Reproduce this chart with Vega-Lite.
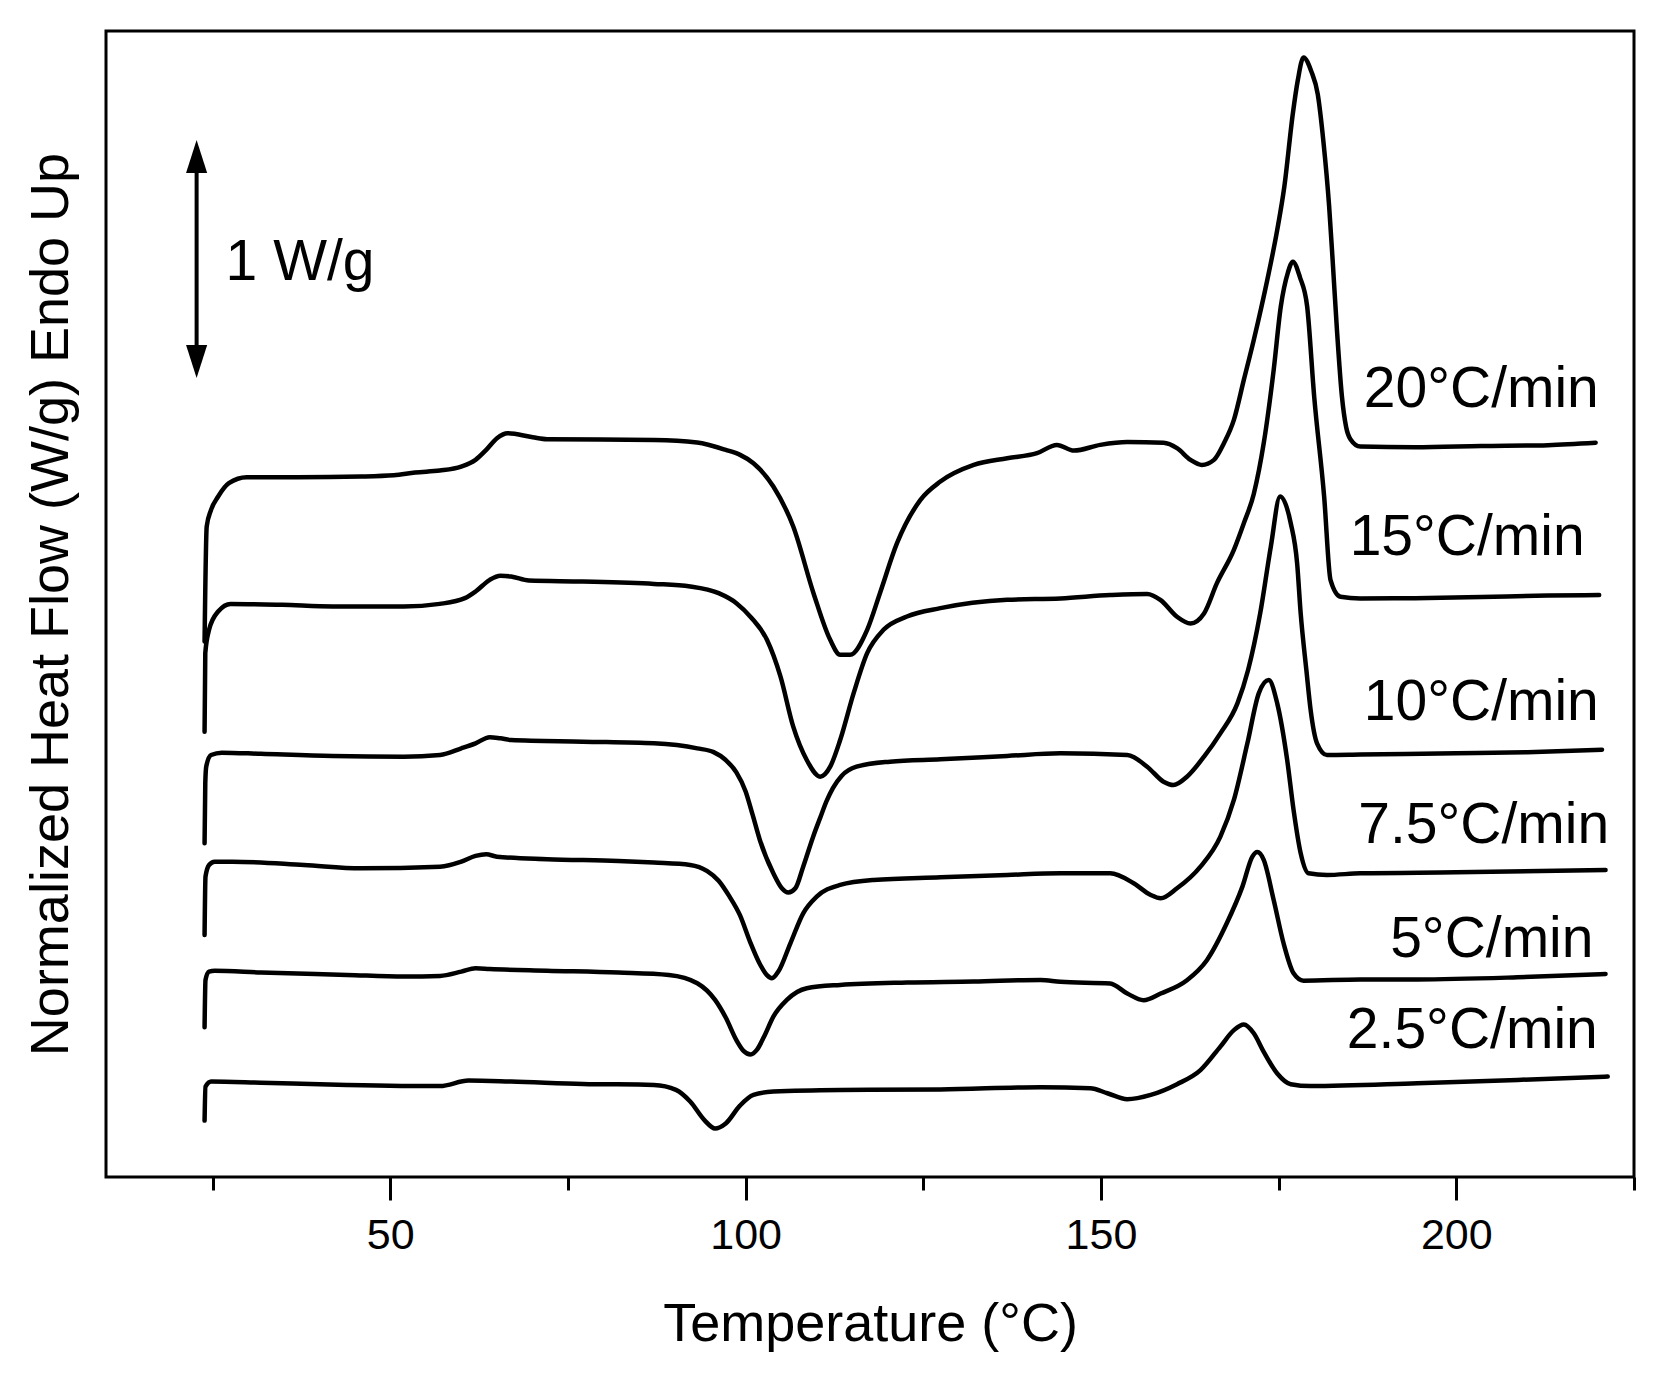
{
  "$schema": "https://vega.github.io/schema/vega-lite/v6.json",
  "width": 1528,
  "height": 1146,
  "autosize": {"type": "none"},
  "padding": {"left": 106, "top": 31, "right": 32, "bottom": 210},
  "background": "white",
  "config": {
    "font": "Liberation Sans",
    "view": {"stroke": "black", "strokeWidth": 3}
  },
  "datasets": {
    "curves": [
      {"rate":"20","T":23.87,"hf":2.25},{"rate":"20","T":24.17,"hf":2.733},{"rate":"20","T":24.78,"hf":2.803},{"rate":"20","T":25.78,"hf":2.859},{"rate":"20","T":27.29,"hf":2.915},{"rate":"20","T":29.8,"hf":2.94},{"rate":"20","T":36.85,"hf":2.94},{"rate":"20","T":45.9,"hf":2.943},{"rate":"20","T":50.5,"hf":2.948},{"rate":"20","T":53.5,"hf":2.96},{"rate":"20","T":56.96,"hf":2.968},{"rate":"20","T":59.98,"hf":2.985},{"rate":"20","T":61.99,"hf":3.013},{"rate":"20","T":63.5,"hf":3.055},{"rate":"20","T":65.01,"hf":3.104},{"rate":"20","T":66.52,"hf":3.125},{"rate":"20","T":70.04,"hf":3.108},{"rate":"20","T":72.05,"hf":3.1},{"rate":"20","T":87.14,"hf":3.097},{"rate":"20","T":93.17,"hf":3.086},{"rate":"20","T":97.2,"hf":3.055},{"rate":"20","T":99.22,"hf":3.034},{"rate":"20","T":101.1,"hf":2.999},{"rate":"20","T":103.9,"hf":2.901},{"rate":"20","T":106.7,"hf":2.733},{"rate":"20","T":109.55,"hf":2.453},{"rate":"20","T":111.9,"hf":2.257},{"rate":"20","T":113.3,"hf":2.194},{"rate":"20","T":114.7,"hf":2.194},{"rate":"20","T":117.1,"hf":2.299},{"rate":"20","T":118.9,"hf":2.453},{"rate":"20","T":121.3,"hf":2.663},{"rate":"20","T":124.6,"hf":2.845},{"rate":"20","T":127.4,"hf":2.922},{"rate":"20","T":132.1,"hf":2.992},{"rate":"20","T":136.8,"hf":3.02},{"rate":"20","T":141.0,"hf":3.041},{"rate":"20","T":143.8,"hf":3.076},{"rate":"20","T":146.2,"hf":3.052},{"rate":"20","T":149.9,"hf":3.076},{"rate":"20","T":153.7,"hf":3.088},{"rate":"20","T":158.8,"hf":3.085},{"rate":"20","T":160.7,"hf":3.062},{"rate":"20","T":162.6,"hf":3.013},{"rate":"20","T":164.2,"hf":2.992},{"rate":"20","T":165.9,"hf":3.013},{"rate":"20","T":167.3,"hf":3.083},{"rate":"20","T":168.7,"hf":3.181},{"rate":"20","T":170.1,"hf":3.349},{"rate":"20","T":171.5,"hf":3.517},{"rate":"20","T":173.4,"hf":3.769},{"rate":"20","T":174.8,"hf":3.979},{"rate":"20","T":175.8,"hf":4.161},{"rate":"20","T":177.0,"hf":4.469},{"rate":"20","T":177.7,"hf":4.609},{"rate":"20","T":178.5,"hf":4.704},{"rate":"20","T":179.6,"hf":4.645},{"rate":"20","T":180.5,"hf":4.55},{"rate":"20","T":181.3,"hf":4.35},{"rate":"20","T":182.1,"hf":4.08},{"rate":"20","T":182.6,"hf":3.85},{"rate":"20","T":183.2,"hf":3.56},{"rate":"20","T":183.9,"hf":3.28},{"rate":"20","T":184.5,"hf":3.15},{"rate":"20","T":185.1,"hf":3.1},{"rate":"20","T":186.5,"hf":3.069},{"rate":"20","T":194.2,"hf":3.066},{"rate":"20","T":203.5,"hf":3.071},{"rate":"20","T":212.9,"hf":3.075},{"rate":"20","T":219.6,"hf":3.085},

      {"rate":"15","T":23.87,"hf":1.871},{"rate":"15","T":23.97,"hf":2.201},{"rate":"15","T":24.5,"hf":2.299},{"rate":"15","T":25.78,"hf":2.376},{"rate":"15","T":27.54,"hf":2.408},{"rate":"15","T":34.8,"hf":2.404},{"rate":"15","T":41.9,"hf":2.397},{"rate":"15","T":51.9,"hf":2.397},{"rate":"15","T":56.96,"hf":2.408},{"rate":"15","T":60.5,"hf":2.432},{"rate":"15","T":62.0,"hf":2.46},{"rate":"15","T":64.0,"hf":2.509},{"rate":"15","T":65.5,"hf":2.526},{"rate":"15","T":67.0,"hf":2.523},{"rate":"15","T":69.5,"hf":2.506},{"rate":"15","T":77.1,"hf":2.502},{"rate":"15","T":87.1,"hf":2.492},{"rate":"15","T":92.2,"hf":2.481},{"rate":"15","T":96.2,"hf":2.453},{"rate":"15","T":98.7,"hf":2.411},{"rate":"15","T":100.8,"hf":2.35},{"rate":"15","T":103.0,"hf":2.257},{"rate":"15","T":104.9,"hf":2.103},{"rate":"15","T":106.7,"hf":1.892},{"rate":"15","T":108.6,"hf":1.752},{"rate":"15","T":110.5,"hf":1.682},{"rate":"15","T":111.9,"hf":1.724},{"rate":"15","T":113.3,"hf":1.836},{"rate":"15","T":115.2,"hf":2.033},{"rate":"15","T":117.1,"hf":2.201},{"rate":"15","T":119.4,"hf":2.299},{"rate":"15","T":122.7,"hf":2.355},{"rate":"15","T":127.4,"hf":2.39},{"rate":"15","T":136.8,"hf":2.425},{"rate":"15","T":144.3,"hf":2.431},{"rate":"15","T":151.3,"hf":2.445},{"rate":"15","T":156.5,"hf":2.45},{"rate":"15","T":158.4,"hf":2.424},{"rate":"15","T":160.7,"hf":2.354},{"rate":"15","T":162.6,"hf":2.326},{"rate":"15","T":164.5,"hf":2.368},{"rate":"15","T":166.3,"hf":2.494},{"rate":"15","T":168.7,"hf":2.635},{"rate":"15","T":170.1,"hf":2.747},{"rate":"15","T":171.5,"hf":2.87},{"rate":"15","T":172.9,"hf":3.083},{"rate":"15","T":174.3,"hf":3.391},{"rate":"15","T":175.3,"hf":3.657},{"rate":"15","T":176.3,"hf":3.8},{"rate":"15","T":177.0,"hf":3.846},{"rate":"15","T":178.0,"hf":3.78},{"rate":"15","T":179.0,"hf":3.66},{"rate":"15","T":180.0,"hf":3.279},{"rate":"15","T":181.4,"hf":2.859},{"rate":"15","T":182.3,"hf":2.508},{"rate":"15","T":183.7,"hf":2.438},{"rate":"15","T":186.5,"hf":2.431},{"rate":"15","T":194.2,"hf":2.432},{"rate":"15","T":203.5,"hf":2.437},{"rate":"15","T":212.9,"hf":2.443},{"rate":"15","T":220.1,"hf":2.445},

      {"rate":"10","T":23.87,"hf":1.402},{"rate":"10","T":23.97,"hf":1.654},{"rate":"10","T":24.1,"hf":1.724},{"rate":"10","T":24.78,"hf":1.773},{"rate":"10","T":26.3,"hf":1.783},{"rate":"10","T":31.8,"hf":1.778},{"rate":"10","T":41.9,"hf":1.769},{"rate":"10","T":51.9,"hf":1.766},{"rate":"10","T":57.0,"hf":1.773},{"rate":"10","T":60.0,"hf":1.801},{"rate":"10","T":62.0,"hf":1.822},{"rate":"10","T":64.0,"hf":1.848},{"rate":"10","T":65.5,"hf":1.843},{"rate":"10","T":67.0,"hf":1.836},{"rate":"10","T":77.1,"hf":1.829},{"rate":"10","T":87.1,"hf":1.822},{"rate":"10","T":93.2,"hf":1.801},{"rate":"10","T":95.5,"hf":1.785},{"rate":"10","T":97.2,"hf":1.752},{"rate":"10","T":98.7,"hf":1.7},{"rate":"10","T":100.0,"hf":1.62},{"rate":"10","T":101.0,"hf":1.52},{"rate":"10","T":102.0,"hf":1.416},{"rate":"10","T":103.9,"hf":1.276},{"rate":"10","T":105.1,"hf":1.213},{"rate":"10","T":106.0,"hf":1.195},{"rate":"10","T":107.0,"hf":1.213},{"rate":"10","T":108.1,"hf":1.304},{"rate":"10","T":109.5,"hf":1.43},{"rate":"10","T":110.5,"hf":1.51},{"rate":"10","T":111.4,"hf":1.58},{"rate":"10","T":112.3,"hf":1.635},{"rate":"10","T":113.5,"hf":1.685},{"rate":"10","T":115.6,"hf":1.724},{"rate":"10","T":120.3,"hf":1.745},{"rate":"10","T":127.4,"hf":1.755},{"rate":"10","T":136.8,"hf":1.769},{"rate":"10","T":144.3,"hf":1.78},{"rate":"10","T":153.7,"hf":1.773},{"rate":"10","T":156.5,"hf":1.724},{"rate":"10","T":158.8,"hf":1.661},{"rate":"10","T":160.2,"hf":1.647},{"rate":"10","T":162.1,"hf":1.682},{"rate":"10","T":164.5,"hf":1.766},{"rate":"10","T":166.8,"hf":1.864},{"rate":"10","T":169.2,"hf":1.99},{"rate":"10","T":170.7,"hf":2.13},{"rate":"10","T":172.4,"hf":2.368},{"rate":"10","T":173.9,"hf":2.649},{"rate":"10","T":175.2,"hf":2.859},{"rate":"10","T":176.7,"hf":2.747},{"rate":"10","T":177.6,"hf":2.578},{"rate":"10","T":178.1,"hf":2.368},{"rate":"10","T":178.9,"hf":2.13},{"rate":"10","T":179.5,"hf":1.962},{"rate":"10","T":180.4,"hf":1.822},{"rate":"10","T":181.8,"hf":1.773},{"rate":"10","T":186.5,"hf":1.775},{"rate":"10","T":200.0,"hf":1.78},{"rate":"10","T":210.0,"hf":1.785},{"rate":"10","T":220.5,"hf":1.795},

      {"rate":"7.5","T":23.87,"hf":1.017},{"rate":"7.5","T":24.0,"hf":1.262},{"rate":"7.5","T":24.5,"hf":1.311},{"rate":"7.5","T":25.28,"hf":1.325},{"rate":"7.5","T":27.8,"hf":1.325},{"rate":"7.5","T":37.85,"hf":1.311},{"rate":"7.5","T":45.9,"hf":1.297},{"rate":"7.5","T":57.0,"hf":1.304},{"rate":"7.5","T":60.0,"hf":1.325},{"rate":"7.5","T":62.0,"hf":1.349},{"rate":"7.5","T":63.5,"hf":1.356},{"rate":"7.5","T":65.0,"hf":1.346},{"rate":"7.5","T":72.05,"hf":1.335},{"rate":"7.5","T":82.1,"hf":1.328},{"rate":"7.5","T":87.1,"hf":1.321},{"rate":"7.5","T":92.2,"hf":1.311},{"rate":"7.5","T":94.6,"hf":1.285},{"rate":"7.5","T":96.2,"hf":1.245},{"rate":"7.5","T":97.7,"hf":1.18},{"rate":"7.5","T":99.2,"hf":1.1},{"rate":"7.5","T":100.6,"hf":0.99},{"rate":"7.5","T":102.0,"hf":0.895},{"rate":"7.5","T":103.0,"hf":0.848},{"rate":"7.5","T":103.7,"hf":0.835},{"rate":"7.5","T":104.6,"hf":0.863},{"rate":"7.5","T":106.3,"hf":0.982},{"rate":"7.5","T":108.1,"hf":1.108},{"rate":"7.5","T":110.0,"hf":1.178},{"rate":"7.5","T":113.3,"hf":1.227},{"rate":"7.5","T":118.0,"hf":1.248},{"rate":"7.5","T":127.4,"hf":1.259},{"rate":"7.5","T":136.8,"hf":1.269},{"rate":"7.5","T":144.3,"hf":1.276},{"rate":"7.5","T":151.3,"hf":1.276},{"rate":"7.5","T":154.6,"hf":1.234},{"rate":"7.5","T":157.0,"hf":1.185},{"rate":"7.5","T":158.4,"hf":1.171},{"rate":"7.5","T":160.7,"hf":1.213},{"rate":"7.5","T":164.0,"hf":1.304},{"rate":"7.5","T":166.8,"hf":1.43},{"rate":"7.5","T":168.7,"hf":1.584},{"rate":"7.5","T":170.6,"hf":1.822},{"rate":"7.5","T":172.2,"hf":2.032},{"rate":"7.5","T":173.6,"hf":2.088},{"rate":"7.5","T":174.8,"hf":1.99},{"rate":"7.5","T":176.2,"hf":1.752},{"rate":"7.5","T":177.1,"hf":1.542},{"rate":"7.5","T":178.1,"hf":1.36},{"rate":"7.5","T":179.2,"hf":1.276},{"rate":"7.5","T":181.8,"hf":1.269},{"rate":"7.5","T":186.5,"hf":1.276},{"rate":"7.5","T":200.0,"hf":1.28},{"rate":"7.5","T":221.0,"hf":1.29},

      {"rate":"5","T":23.87,"hf":0.629},{"rate":"5","T":24.0,"hf":0.828},{"rate":"5","T":24.5,"hf":0.863},{"rate":"5","T":25.3,"hf":0.867},{"rate":"5","T":31.8,"hf":0.859},{"rate":"5","T":43.9,"hf":0.849},{"rate":"5","T":51.9,"hf":0.842},{"rate":"5","T":57.0,"hf":0.845},{"rate":"5","T":60.0,"hf":0.863},{"rate":"5","T":62.0,"hf":0.877},{"rate":"5","T":64.0,"hf":0.874},{"rate":"5","T":72.05,"hf":0.867},{"rate":"5","T":82.1,"hf":0.859},{"rate":"5","T":89.2,"hf":0.849},{"rate":"5","T":93.2,"hf":0.814},{"rate":"5","T":95.7,"hf":0.744},{"rate":"5","T":97.2,"hf":0.67},{"rate":"5","T":98.7,"hf":0.575},{"rate":"5","T":99.7,"hf":0.53},{"rate":"5","T":100.7,"hf":0.515},{"rate":"5","T":101.6,"hf":0.535},{"rate":"5","T":102.6,"hf":0.59},{"rate":"5","T":103.9,"hf":0.674},{"rate":"5","T":105.8,"hf":0.744},{"rate":"5","T":108.6,"hf":0.793},{"rate":"5","T":113.3,"hf":0.807},{"rate":"5","T":122.7,"hf":0.817},{"rate":"5","T":132.1,"hf":0.821},{"rate":"5","T":141.5,"hf":0.828},{"rate":"5","T":144.3,"hf":0.82},{"rate":"5","T":151.3,"hf":0.813},{"rate":"5","T":153.7,"hf":0.771},{"rate":"5","T":156.0,"hf":0.743},{"rate":"5","T":158.4,"hf":0.771},{"rate":"5","T":162.1,"hf":0.827},{"rate":"5","T":164.9,"hf":0.911},{"rate":"5","T":167.7,"hf":1.066},{"rate":"5","T":169.9,"hf":1.22},{"rate":"5","T":171.3,"hf":1.346},{"rate":"5","T":172.0,"hf":1.365},{"rate":"5","T":172.9,"hf":1.332},{"rate":"5","T":174.3,"hf":1.164},{"rate":"5","T":175.7,"hf":0.981},{"rate":"5","T":177.1,"hf":0.856},{"rate":"5","T":178.5,"hf":0.825},{"rate":"5","T":186.5,"hf":0.83},{"rate":"5","T":194.5,"hf":0.83},{"rate":"5","T":208.6,"hf":0.839},{"rate":"5","T":221.0,"hf":0.853},

      {"rate":"2.5","T":23.87,"hf":0.237},{"rate":"2.5","T":24.0,"hf":0.38},{"rate":"2.5","T":24.8,"hf":0.401},{"rate":"2.5","T":31.8,"hf":0.396},{"rate":"2.5","T":43.9,"hf":0.387},{"rate":"2.5","T":57.0,"hf":0.382},{"rate":"2.5","T":61.0,"hf":0.405},{"rate":"2.5","T":67.0,"hf":0.401},{"rate":"2.5","T":77.1,"hf":0.391},{"rate":"2.5","T":87.1,"hf":0.387},{"rate":"2.5","T":90.2,"hf":0.366},{"rate":"2.5","T":92.2,"hf":0.317},{"rate":"2.5","T":94.2,"hf":0.239},{"rate":"2.5","T":95.7,"hf":0.204},{"rate":"2.5","T":97.2,"hf":0.225},{"rate":"2.5","T":99.2,"hf":0.3},{"rate":"2.5","T":101.1,"hf":0.345},{"rate":"2.5","T":103.9,"hf":0.359},{"rate":"2.5","T":113.3,"hf":0.366},{"rate":"2.5","T":127.4,"hf":0.368},{"rate":"2.5","T":141.5,"hf":0.377},{"rate":"2.5","T":148.5,"hf":0.373},{"rate":"2.5","T":150.9,"hf":0.352},{"rate":"2.5","T":153.7,"hf":0.327},{"rate":"2.5","T":157.0,"hf":0.345},{"rate":"2.5","T":160.7,"hf":0.39},{"rate":"2.5","T":164.0,"hf":0.449},{"rate":"2.5","T":166.8,"hf":0.548},{"rate":"2.5","T":168.7,"hf":0.617},{"rate":"2.5","T":170.1,"hf":0.641},{"rate":"2.5","T":171.5,"hf":0.604},{"rate":"2.5","T":172.9,"hf":0.526},{"rate":"2.5","T":174.8,"hf":0.435},{"rate":"2.5","T":176.7,"hf":0.39},{"rate":"2.5","T":179.5,"hf":0.382},{"rate":"2.5","T":194.5,"hf":0.394},{"rate":"2.5","T":208.6,"hf":0.408},{"rate":"2.5","T":221.3,"hf":0.422}
    ],
    "labels": [
      {"T":220.05,"hf":3.235,"text":"20°C/min"},
      {"T":218.06,"hf":2.613,"text":"15°C/min"},
      {"T":220.05,"hf":1.92,"text":"10°C/min"},
      {"T":221.5,"hf":1.403,"text":"7.5°C/min"},
      {"T":219.3,"hf":0.924,"text":"5°C/min"},
      {"T":219.9,"hf":0.542,"text":"2.5°C/min"}
    ],
    "scalebar": [
      {"T":22.75,"top":4.357,"bottom":3.357,"text":"1 W/g","textT":26.83,"textHf":3.769}
    ]
  },
  "layer": [
    {
      "data": {"name": "curves"},
      "mark": {"type": "line", "color": "black", "strokeWidth": 4.5, "interpolate": "monotone", "strokeJoin": "round", "strokeCap": "round"},
      "encoding": {
        "x": {
          "field": "T", "type": "quantitative",
          "scale": {"domain": [10, 225], "nice": false, "zero": false},
          "axis": {
            "title": "Temperature (°C)",
            "values": [25, 50, 75, 100, 125, 150, 175, 200, 225],
            "labelExpr": "datum.value % 50 === 0 ? datum.label : ''",
            "grid": false,
            "domain": false,
            "ticks": true,
            "tickColor": "black",
            "tickWidth": 3,
            "tickSize": {"condition": {"test": "datum.value % 50 === 0", "value": 23}, "value": 13},
            "labelFontSize": 43,
            "labelColor": "black",
            "labelPadding": 14,
            "labelFont": "Liberation Sans",
            "titleFont": "Liberation Sans",
            "titleFontSize": 54,
            "titleFontWeight": "normal",
            "titleColor": "black",
            "titlePadding": 40
          }
        },
        "y": {
          "field": "hf", "type": "quantitative",
          "scale": {"domain": [0, 4.815], "nice": false, "zero": false},
          "axis": {
            "title": "Normalized Heat Flow (W/g) Endo Up",
            "labels": false,
            "ticks": false,
            "domain": false,
            "grid": false,
            "titleFont": "Liberation Sans",
            "titleFontSize": 54,
            "titleFontWeight": "normal",
            "titleColor": "black",
            "titlePadding": 28
          }
        },
        "detail": {"field": "rate", "type": "nominal"}
      }
    },
    {
      "data": {"name": "labels"},
      "mark": {"type": "text", "align": "right", "baseline": "alphabetic", "fontSize": 57, "font": "Liberation Sans", "color": "black"},
      "encoding": {
        "x": {"field": "T", "type": "quantitative"},
        "y": {"field": "hf", "type": "quantitative"},
        "text": {"field": "text"}
      }
    },
    {
      "data": {"name": "scalebar"},
      "mark": {"type": "rule", "color": "black", "strokeWidth": 4, "yOffset": 12, "y2Offset": -12},
      "encoding": {
        "x": {"field": "T", "type": "quantitative"},
        "y": {"field": "top", "type": "quantitative"},
        "y2": {"field": "bottom"}
      }
    },
    {
      "data": {"name": "scalebar"},
      "mark": {"type": "point", "shape": "M0,-1L0.64,1L-0.64,1Z", "size": 1089, "filled": true, "color": "black", "opacity": 1, "yOffset": 16.5},
      "encoding": {
        "x": {"field": "T", "type": "quantitative"},
        "y": {"field": "top", "type": "quantitative"}
      }
    },
    {
      "data": {"name": "scalebar"},
      "mark": {"type": "point", "shape": "M0,1L0.64,-1L-0.64,-1Z", "size": 1089, "filled": true, "color": "black", "opacity": 1, "yOffset": -16.5},
      "encoding": {
        "x": {"field": "T", "type": "quantitative"},
        "y": {"field": "bottom", "type": "quantitative"}
      }
    },
    {
      "data": {"name": "scalebar"},
      "mark": {"type": "text", "align": "left", "baseline": "alphabetic", "fontSize": 57, "font": "Liberation Sans", "color": "black"},
      "encoding": {
        "x": {"field": "textT", "type": "quantitative"},
        "y": {"field": "textHf", "type": "quantitative"},
        "text": {"field": "text"}
      }
    }
  ]
}
